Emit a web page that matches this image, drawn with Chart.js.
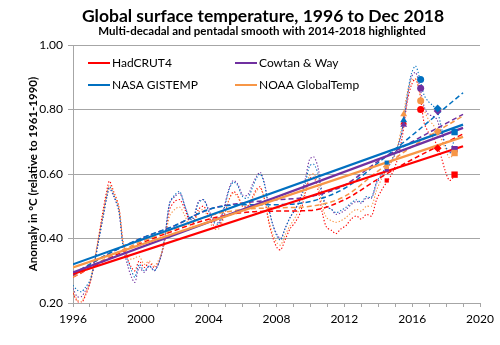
<!DOCTYPE html>
<html>
<head>
<meta charset="utf-8">
<script src="https://cdn.jsdelivr.net/npm/chart.js@4.4.1/dist/chart.umd.min.js"></script>
<style>
  html, body { margin: 0; padding: 0; background: #fff; }
</style>
</head>
<body>
<canvas id="chart" width="500" height="345"></canvas>
<script>
const chartTitle = 'Global surface temperature, 1996 to Dec 2018';
const chartSubtitle = 'Multi-decadal and pentadal smooth with 2014-2018 highlighted';
const yAxisTitle = 'Anomaly in \u00B0C (relative to 1961-1990)';

const seriesNames = ['HadCRUT4', 'Cowtan & Way', 'NASA GISTEMP', 'NOAA GlobalTemp'];
const seriesColors = ['#ff0000', '#7030a0', '#0070c0', '#f79646'];

// 12-month smoothed anomalies (dotted)
const smoothYears = [
  1996.0, 1996.25, 1996.5, 1996.75, 1997.0, 1997.25, 1997.5, 1997.75, 1998.0, 1998.15, 1998.4, 1998.7,
  1998.95, 1999.2, 1999.45, 1999.65, 1999.9, 2000.2, 2000.5, 2000.8, 2001.1, 2001.4, 2001.7, 2002.0,
  2002.3, 2002.6, 2002.9, 2003.1, 2003.4, 2003.7, 2004.0, 2004.3, 2004.6, 2004.9, 2005.2, 2005.45,
  2005.7, 2006.0, 2006.3, 2006.6, 2006.85, 2007.05, 2007.3, 2007.55, 2007.8, 2008.05, 2008.25, 2008.5,
  2008.8, 2009.1, 2009.4, 2009.7, 2009.95, 2010.2, 2010.45, 2010.7, 2010.95, 2011.25, 2011.5, 2011.8,
  2012.1, 2012.4, 2012.7, 2013.0, 2013.3, 2013.6, 2013.9, 2014.2, 2014.5, 2014.8, 2015.1, 2015.4,
  2015.7, 2015.95, 2016.2, 2016.45, 2016.7, 2016.95, 2017.2, 2017.45, 2017.7, 2017.95, 2018.2, 2018.45
];
const hadcrutSmooth = [
  0.23, 0.205, 0.20, 0.225, 0.26, 0.32, 0.40, 0.48, 0.55, 0.578, 0.545, 0.50,
  0.39, 0.34, 0.31, 0.30, 0.33, 0.31, 0.325, 0.31, 0.33, 0.39, 0.49, 0.515,
  0.52, 0.49, 0.45, 0.45, 0.49, 0.50, 0.47, 0.44, 0.44, 0.47, 0.52, 0.545,
  0.535, 0.50, 0.50, 0.53, 0.555, 0.56, 0.52, 0.45, 0.40, 0.37, 0.365, 0.395,
  0.43, 0.45, 0.48, 0.54, 0.585, 0.59, 0.55, 0.48, 0.435, 0.425, 0.415, 0.43,
  0.44, 0.46, 0.47, 0.46, 0.475, 0.47, 0.52, 0.55, 0.575, 0.60, 0.64, 0.71,
  0.82, 0.875, 0.895, 0.85, 0.76, 0.73, 0.715, 0.69, 0.655, 0.61, 0.58, 0.59
];
const cowtanSmooth = [
  0.245, 0.22, 0.22, 0.24, 0.265, 0.32, 0.39, 0.46, 0.53, 0.555, 0.53, 0.485,
  0.375, 0.32, 0.28, 0.264, 0.31, 0.295, 0.315, 0.30, 0.33, 0.40, 0.51, 0.53,
  0.54, 0.50, 0.46, 0.465, 0.515, 0.52, 0.49, 0.455, 0.45, 0.495, 0.555, 0.58,
  0.57, 0.535, 0.535, 0.57, 0.595, 0.605, 0.57, 0.495, 0.44, 0.41, 0.40, 0.43,
  0.465, 0.49, 0.525, 0.585, 0.645, 0.653, 0.62, 0.54, 0.50, 0.49, 0.475, 0.48,
  0.49, 0.505, 0.515, 0.51, 0.525, 0.525, 0.57, 0.595, 0.615, 0.64, 0.675, 0.73,
  0.83, 0.90, 0.915, 0.87, 0.81, 0.785, 0.78, 0.77, 0.73, 0.69, 0.665, 0.675
];
const gistempSmooth = [
  0.255, 0.24, 0.235, 0.25, 0.27, 0.32, 0.39, 0.46, 0.53, 0.56, 0.535, 0.49,
  0.38, 0.335, 0.30, 0.28, 0.32, 0.30, 0.315, 0.30, 0.33, 0.40, 0.51, 0.535,
  0.545, 0.50, 0.46, 0.46, 0.51, 0.52, 0.485, 0.45, 0.445, 0.49, 0.55, 0.575,
  0.565, 0.53, 0.525, 0.56, 0.59, 0.60, 0.565, 0.49, 0.44, 0.405, 0.395, 0.43,
  0.465, 0.49, 0.52, 0.57, 0.625, 0.63, 0.60, 0.53, 0.50, 0.49, 0.48, 0.487,
  0.497, 0.51, 0.52, 0.513, 0.53, 0.527, 0.575, 0.60, 0.625, 0.645, 0.68, 0.735,
  0.84, 0.91, 0.935, 0.895, 0.845, 0.825, 0.813, 0.80, 0.75, 0.69, 0.665, 0.70
];
const noaaSmooth = [
  0.235, 0.21, 0.205, 0.23, 0.265, 0.33, 0.40, 0.47, 0.54, 0.565, 0.54, 0.495,
  0.39, 0.35, 0.335, 0.34, 0.345, 0.32, 0.33, 0.315, 0.34, 0.39, 0.47, 0.49,
  0.497, 0.47, 0.435, 0.44, 0.48, 0.49, 0.46, 0.43, 0.43, 0.465, 0.52, 0.54,
  0.53, 0.50, 0.50, 0.525, 0.55, 0.555, 0.52, 0.455, 0.41, 0.385, 0.38, 0.41,
  0.44, 0.465, 0.50, 0.55, 0.595, 0.60, 0.57, 0.50, 0.465, 0.455, 0.45, 0.455,
  0.465, 0.48, 0.49, 0.485, 0.50, 0.50, 0.55, 0.585, 0.615, 0.64, 0.68, 0.75,
  0.85, 0.89, 0.895, 0.85, 0.80, 0.77, 0.755, 0.735, 0.71, 0.68, 0.65, 0.66
];

// multi-decadal smooth (dashed)
const curveYears = [1996, 1998, 2000, 2002, 2004, 2006, 2008, 2010, 2012, 2014, 2016, 2019];
const hadcrutCurve = [0.28, 0.335, 0.385, 0.425, 0.46, 0.48, 0.485, 0.487, 0.52, 0.585, 0.645, 0.724];
const cowtanCurve = [0.285, 0.35, 0.40, 0.44, 0.49, 0.51, 0.52, 0.53, 0.565, 0.64, 0.70, 0.785];
const gistempCurve = [0.29, 0.35, 0.40, 0.44, 0.49, 0.505, 0.505, 0.515, 0.555, 0.635, 0.72, 0.852];
const noaaCurve = [0.28, 0.34, 0.39, 0.43, 0.47, 0.49, 0.495, 0.50, 0.53, 0.61, 0.685, 0.78];

// linear trends (solid)
const trendYears = [1996, 2019];
const hadcrutTrend = [0.29, 0.686];
const cowtanTrend = [0.295, 0.743];
const gistempTrend = [0.32, 0.753];
const noaaTrend = [0.31, 0.715];

// annual means 2014-2018 (markers)
const markerYears = [2014.5, 2015.5, 2016.5, 2017.5, 2018.5];
const hadcrutAnnual = [0.58, 0.76, 0.80, 0.68, 0.598];
const cowtanAnnual = [0.614, 0.753, 0.866, 0.795, 0.677];
const gistempAnnual = [0.635, 0.767, 0.893, 0.803, 0.73];
const noaaAnnual = [0.622, 0.785, 0.827, 0.731, 0.665];
const markerStyles = ['rect', 'triangle', 'circle', 'rectRot', 'rect'];
const markerSizes = [3, 4, 3.5, 4, 4.5];

const smoothSets = [hadcrutSmooth, cowtanSmooth, gistempSmooth, noaaSmooth];
const curveSets = [hadcrutCurve, cowtanCurve, gistempCurve, noaaCurve];
const trendSets = [hadcrutTrend, cowtanTrend, gistempTrend, noaaTrend];
const annualSets = [hadcrutAnnual, cowtanAnnual, gistempAnnual, noaaAnnual];

const toPoints = (xs, ys) => xs.map((x, i) => ({ x: x, y: ys[i] }));

const datasets = [];
seriesNames.forEach((name, s) => {
    const color = seriesColors[s];
    datasets.push({
        label: name + ' smooth',
        data: toPoints(smoothYears, smoothSets[s]),
        borderColor: color,
        borderWidth: 1.1,
        borderDash: [1.3, 1.9],
        pointRadius: 0,
        tension: 0.3,
        order: 40 - s
    });
    datasets.push({
        label: name + ' multi-decadal',
        data: toPoints(curveYears, curveSets[s]),
        borderColor: color,
        borderWidth: 1.5,
        borderDash: [5, 3],
        pointRadius: 0,
        cubicInterpolationMode: 'monotone',
        order: 30 - s
    });
    datasets.push({
        label: name,
        legendItem: true,
        data: toPoints(trendYears, trendSets[s]),
        borderColor: color,
        borderWidth: 2.2,
        pointRadius: 0,
        order: 20 - s
    });
    datasets.push({
        label: name + ' annual',
        data: toPoints(markerYears, annualSets[s]),
        showLine: false,
        backgroundColor: color,
        borderColor: color,
        borderWidth: 0,
        pointStyle: markerStyles,
        pointRadius: markerSizes,
        order: 10 - s
    });
});

// title and subtitle, centred where the original has them
const titlePlugin = {
    id: 'titleText',
    afterDraw(chart) {
        const ctx = chart.ctx;
        ctx.save();
        ctx.textAlign = 'center';
        ctx.textBaseline = 'middle';
        ctx.fillStyle = '#000';
        ctx.font = 'bold 17.5px Lato';
        ctx.fillText(chartTitle, 263, 16);
        ctx.font = 'bold 11.5px Lato';
        ctx.fillText(chartSubtitle, 262, 31);
        ctx.restore();
    }
};

// two-column legend inside the plot, trend lines only
const legendPlugin = {
    id: 'gridLegend',
    afterDatasetsDraw(chart) {
        const ctx = chart.ctx;
        const area = chart.chartArea;
        const items = chart.data.datasets.filter(d => d.legendItem);
        ctx.save();
        ctx.font = '12px Lato';
        ctx.textBaseline = 'middle';
        ctx.fillStyle = '#000';
        items.forEach((d, i) => {
            const x = area.left + 15 + (i % 2) * 147;
            const y = area.top + 18 + Math.floor(i / 2) * 22;
            ctx.strokeStyle = d.borderColor;
            ctx.lineWidth = 2;
            ctx.beginPath();
            ctx.moveTo(x, y);
            ctx.lineTo(x + 22, y);
            ctx.stroke();
            ctx.fillText(d.label, x + 24, y);
        });
        ctx.restore();
    }
};

Chart.defaults.font.family = 'Lato';
Chart.defaults.color = '#000';

new Chart(document.getElementById('chart').getContext('2d'), {
    type: 'line',
    data: { datasets: datasets },
    options: {
        responsive: false,
        animation: false,
        devicePixelRatio: 1,
        layout: { padding: { top: 45, right: 20, left: 0, bottom: 0 } },
        plugins: {
            legend: { display: false },
            tooltip: { enabled: false }
        },
        scales: {
            x: {
                type: 'linear',
                min: 1996,
                max: 2020,
                afterFit: scale => { scale.height = 42; },
                ticks: {
                    stepSize: 1,
                    autoSkip: false,
                    maxRotation: 0,
                    padding: 5,
                    font: { size: 12 },
                    callback: v => (v % 4 === 0 ? String(v) : '')
                },
                grid: {
                    drawOnChartArea: false,
                    drawTicks: true,
                    tickLength: 4,
                    color: '#a6a6a6'
                },
                border: { color: '#a6a6a6' }
            },
            y: {
                min: 0.2,
                max: 1.0,
                afterFit: scale => { scale.width = 73; },
                ticks: {
                    stepSize: 0.2,
                    padding: 5,
                    font: { size: 12 },
                    callback: v => v.toFixed(2)
                },
                grid: {
                    color: '#a6a6a6',
                    tickLength: 5
                },
                border: { color: '#a6a6a6' },
                title: {
                    display: true,
                    text: yAxisTitle,
                    font: { size: 11.5, weight: 'bold' },
                    padding: { top: 26, bottom: 0 }
                }
            }
        }
    },
    plugins: [titlePlugin, legendPlugin]
});
</script>
</body>
</html>
